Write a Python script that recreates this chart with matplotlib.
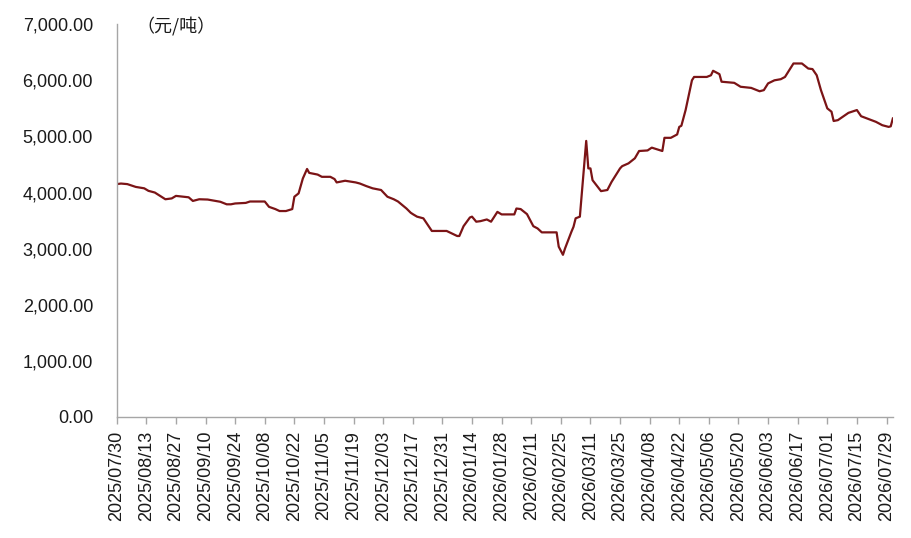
import pandas as pd
import matplotlib.pyplot as plt
import matplotlib.dates as mdates
from matplotlib.ticker import FuncFormatter

# 价格走势（元/吨），按图读取的拐点
dates = [
    '2025-07-30', '2025-08-01', '2025-08-04', '2025-08-08', '2025-08-12', '2025-08-14',
    '2025-08-17', '2025-08-22', '2025-08-25', '2025-08-27', '2025-09-02', '2025-09-04',
    '2025-09-07', '2025-09-11', '2025-09-17', '2025-09-20', '2025-09-22', '2025-09-24',
    '2025-09-29', '2025-10-01', '2025-10-08', '2025-10-10', '2025-10-13', '2025-10-15',
    '2025-10-18', '2025-10-21', '2025-10-22', '2025-10-24', '2025-10-26', '2025-10-28',
    '2025-10-29', '2025-11-02', '2025-11-04', '2025-11-08', '2025-11-10', '2025-11-11',
    '2025-11-15', '2025-11-20', '2025-11-22', '2025-11-25', '2025-11-28', '2025-11-30',
    '2025-12-02', '2025-12-05', '2025-12-08', '2025-12-10', '2025-12-14', '2025-12-16',
    '2025-12-17', '2025-12-19', '2025-12-22', '2025-12-26', '2026-01-02', '2026-01-07',
    '2026-01-08', '2026-01-10', '2026-01-13', '2026-01-14', '2026-01-16', '2026-01-18',
    '2026-01-21', '2026-01-23', '2026-01-26', '2026-01-28', '2026-02-03', '2026-02-04',
    '2026-02-06', '2026-02-09', '2026-02-12', '2026-02-14', '2026-02-16', '2026-02-23',
    '2026-02-24', '2026-02-26', '2026-02-27', '2026-03-02', '2026-03-03', '2026-03-04',
    '2026-03-06', '2026-03-09', '2026-03-10', '2026-03-11', '2026-03-12', '2026-03-16',
    '2026-03-19', '2026-03-21', '2026-03-25', '2026-03-26', '2026-03-29', '2026-04-01',
    '2026-04-03', '2026-04-07', '2026-04-09', '2026-04-14', '2026-04-15', '2026-04-18',
    '2026-04-21', '2026-04-22', '2026-04-23', '2026-04-25', '2026-04-28', '2026-04-29',
    '2026-05-05', '2026-05-07', '2026-05-08', '2026-05-11', '2026-05-12', '2026-05-18',
    '2026-05-21', '2026-05-26', '2026-05-30', '2026-06-01', '2026-06-03', '2026-06-06',
    '2026-06-09', '2026-06-11', '2026-06-15', '2026-06-19', '2026-06-22', '2026-06-24',
    '2026-06-26', '2026-06-28', '2026-07-01', '2026-07-03', '2026-07-04', '2026-07-06',
    '2026-07-11', '2026-07-15', '2026-07-17', '2026-07-22', '2026-07-24', '2026-07-27',
    '2026-07-30', '2026-07-31', '2026-08-01',
]
prices = [
    4150, 4160, 4150, 4100, 4075, 4030,
    4000, 3880, 3895, 3940, 3915, 3850,
    3880, 3875, 3835, 3790, 3790, 3805,
    3815, 3840, 3840, 3745, 3705, 3670,
    3670, 3705, 3925, 3985, 4250, 4420,
    4350, 4320, 4280, 4280, 4240, 4180,
    4210, 4180, 4160, 4115, 4075, 4060,
    4045, 3925, 3880, 3840, 3715, 3640,
    3615, 3570, 3540, 3315, 3315, 3225,
    3225, 3400, 3555, 3570, 3480, 3490,
    3520, 3480, 3655, 3610, 3610, 3715,
    3705, 3615, 3400, 3360, 3290, 3290,
    3035, 2890, 3005, 3300, 3390, 3540,
    3570, 4920, 4430, 4430, 4220, 4025,
    4045, 4190, 4430, 4470, 4520, 4610,
    4740, 4750, 4800, 4740, 4975, 4975,
    5035, 5170, 5190, 5470, 6000, 6060,
    6060, 6090, 6170, 6110, 5975, 5955,
    5885, 5865, 5805, 5825, 5945, 6000,
    6020, 6060, 6300, 6300, 6210, 6200,
    6090, 5825, 5500, 5440, 5275, 5290,
    5420, 5470, 5360, 5290, 5260, 5200,
    5170, 5180, 5320,
]
tick_dates = pd.date_range('2025-07-30', '2026-07-29', freq='14D')
y_ticks = [0, 1000, 2000, 3000, 4000, 5000, 6000, 7000]

plt.rcParams['font.family'] = ['Liberation Sans', 'Noto Sans CJK SC', 'DejaVu Sans']

def main():
    x = pd.to_datetime(dates)
    fig = plt.figure(figsize=(9.12, 5.38), dpi=100)
    ax = fig.add_axes([0.128, 0.225, 0.851, 0.730])
    ax.plot(x, prices, color='#7B1416', linewidth=1.6)

    ax.set_xlim(pd.Timestamp('2025-07-30'), pd.Timestamp('2026-08-01'))
    ax.set_ylim(0, 7000)
    ax.set_yticks(y_ticks)
    ax.yaxis.set_major_formatter(FuncFormatter(lambda v, p: f'{v:,.2f}'))
    ax.set_xticks(tick_dates)
    ax.xaxis.set_major_formatter(mdates.DateFormatter('%Y/%m/%d'))

    for s in ['top', 'right']:
        ax.spines[s].set_visible(False)
    for s in ['left', 'bottom']:
        ax.spines[s].set_color('#A6A6A6')
        ax.spines[s].set_linewidth(1.0)

    ax.tick_params(axis='y', length=0, pad=17, labelsize=13, labelcolor='#1A1A1A')
    ax.tick_params(axis='x', length=5, width=1, color='#A6A6A6', direction='out',
                   pad=5, labelsize=13, labelcolor='#1A1A1A', labelrotation=90)

    ax.text(0.026, 0.995, '（元/吨）', transform=ax.transAxes, fontsize=13,
            family=['Noto Sans CJK SC', 'DejaVu Sans'], color='#1A1A1A',
            ha='left', va='center')

    fig.savefig('out.png', dpi=100)

if __name__ == '__main__':
    main()
